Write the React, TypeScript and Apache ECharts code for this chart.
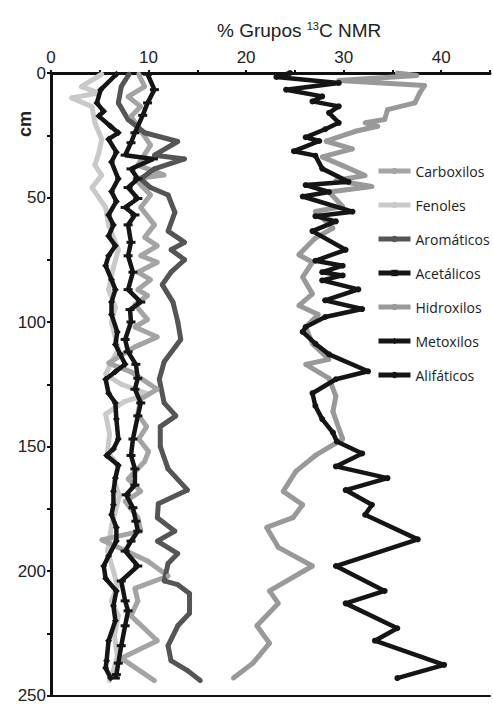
import React, { useEffect, useRef } from "react";
import * as echarts from "echarts";

// ---- data: [value %, depth cm] pairs per series ----
const carboxilosPct = [9.0, 9.6, 7.9, 9.2, 8.2, 8.9, 10.2, 8.9, 11.6, 8.6, 10.2, 9.2, 10.6, 9.6, 10.9, 9.2, 10.9, 8.9, 10.2, 8.9, 9.9, 8.6, 9.9, 8.6, 10.9, 8.6, 5.9, 8.2, 10.9, 9.2, 8.9, 9.8, 9.0, 10.0, 9.6, 7.9, 9.2, 7.6, 8.9, 9.2, 5.2, 6.6, 9.9, 12.0, 8.6, 8.9, 8.2, 10.9, 7.2, 10.6];
const carboxilosDepth = [0.5, 5.5, 9.5, 13.5, 17.5, 21.4, 29, 37, 41, 42.5, 49, 54, 61, 66, 69.4, 73.4, 76, 80, 83, 87, 89.4, 93, 99, 102, 106, 110, 116.5, 120, 127, 131, 137, 142, 147, 152, 156, 163, 168, 172, 178.6, 184, 187.5, 190, 196, 202, 207, 212, 218, 228, 235, 244];

const fenolesPct = [5.2, 3.1, 4.9, 2.1, 4.2, 4.5, 5.2, 4.9, 4.5, 5.2, 4.2, 5.6, 5.9, 6.9, 6.4, 5.9, 6.6, 6.2, 6.9, 6.2, 5.6, 7.2, 10.0, 7.5, 5.6, 6.0, 5.8, 6.9, 6.5, 7.0, 6.6, 6.2, 5.8, 6.4, 6.8, 6.2, 6.9, 6.5, 6.8, 6.4, 6.0];
const fenolesDepth = [0.5, 5.5, 8, 10, 13.5, 20, 26.6, 32, 37, 41, 46, 54, 61, 71, 78, 87, 94, 100, 111, 116, 121, 125, 129, 132, 137, 145, 152, 158, 164, 170, 176, 182, 192, 200, 206, 212, 218, 226, 234, 240, 244];

const aromaticosPct = [8.0, 7.2, 6.9, 7.9, 9.6, 13.0, 10.6, 13.7, 10.6, 9.2, 10.2, 12.0, 12.7, 12.0, 13.7, 12.3, 13.7, 12.3, 11.4, 12.5, 13.0, 13.3, 11.6, 11.1, 11.6, 12.8, 11.2, 11.2, 12.0, 14.0, 11.0, 10.9, 12.7, 10.9, 13.0, 12.0, 11.6, 13.0, 14.2, 14.2, 13.0, 12.0, 12.3, 14.0, 15.3];
const aromaticosDepth = [0.5, 5.5, 12, 18.7, 24, 27.5, 33, 34.5, 38.5, 42.5, 46, 49, 56, 63.5, 68, 71, 75, 80, 85, 92, 100, 107, 116, 123, 132.5, 137.7, 142, 150, 159, 167.5, 173, 178.6, 184, 188, 193, 197, 204, 205.5, 209, 217, 222, 230, 236, 240, 244];

const acetalicosPct = [9.9, 10.6, 9.9, 9.4, 8.6, 8.2, 7.6, 10.5, 8.2, 8.9, 7.9, 8.9, 7.6, 8.6, 7.9, 8.2, 7.9, 8.4, 7.9, 9.2, 8.1, 8.2, 7.6, 7.9, 8.7, 8.9, 8.6, 9.2, 8.9, 8.4, 8.2, 8.6, 8.6, 7.7, 8.4, 8.7, 8.9, 8.2, 7.6, 8.9, 7.2, 7.6, 7.9, 7.6, 7.2, 6.9, 6.7, 6.6];
const acetalicosDepth = [0.5, 6.7, 12, 17, 24, 28, 33, 34.5, 38.5, 42.5, 46, 50.4, 54, 57, 61, 68, 73.4, 80, 87, 92, 95, 100, 107, 112, 117, 122.6, 127, 132.5, 137.7, 147, 153.6, 159, 165.5, 169.4, 174.6, 180, 184, 188, 192, 198, 204, 212, 216, 222, 230, 237, 241.6, 243];

const hidroxilosPct = [35.5, 37.5, 29.5, 38.3, 37.8, 37.3, 34.5, 34.2, 32.2, 33.5, 31.2, 28.2, 30.9, 27.8, 29.9, 32.2, 29.2, 32.9, 28.5, 29.9, 27.1, 28.9, 27.1, 25.4, 26.8, 25.8, 26.8, 25.4, 27.4, 26.1, 26.8, 28.5, 26.1, 28.5, 29.2, 28.9, 29.9, 27.1, 25.1, 23.8, 25.8, 24.8, 22.1, 23.3, 26.8, 22.4, 23.3, 21.1, 22.4, 20.7, 18.7];
const hidroxilosDepth = [0, 1, 3, 5, 8, 12, 14.7, 18.7, 20, 21.4, 23.4, 27.4, 30.5, 33.7, 37.2, 41.2, 43.2, 45.6, 47.8, 53.6, 55.6, 62.3, 66.3, 73, 76, 82, 88.7, 93.4, 97, 102, 108.7, 115, 117, 122.6, 129.8, 136, 147, 153.6, 160, 168, 173.4, 178.6, 182.5, 190.5, 198, 208, 213, 222, 229, 237, 243];

const metoxilosPct = [6.7, 5.1, 4.7, 5.4, 4.9, 6.1, 6.9, 5.9, 6.7, 6.2, 6.9, 6.2, 6.7, 5.9, 6.4, 5.9, 6.6, 5.9, 5.6, 6.2, 6.6, 6.2, 6.2, 6.8, 6.6, 7.1, 7.6, 6.6, 5.6, 5.9, 6.6, 6.7, 6.9, 6.4, 5.7, 6.9, 6.6, 6.4, 6.4, 6.2, 6.7, 6.7, 5.9, 5.4, 5.6, 6.7, 6.4, 6.6, 5.9, 5.7, 5.6, 6.1];
const metoxilosDepth = [0.5, 6.7, 12, 15.4, 17.3, 21.4, 24, 26.6, 31.8, 35.7, 42.5, 47.6, 51.6, 57, 61, 65.5, 69.4, 73.4, 77.4, 83, 87, 92, 97, 104, 109, 113, 117, 120, 123, 128.6, 132.5, 139, 147, 151, 153.6, 157.5, 162.7, 168, 173.4, 177.4, 182.5, 188, 194, 198, 203, 208, 214, 220, 228, 236, 239, 243];

const alifaticosPct = [24.5, 23.1, 29.5, 24.1, 27.8, 26.8, 29.5, 28.5, 29.5, 28.1, 26.1, 27.5, 24.9, 27.1, 27.8, 30.5, 26.1, 28.5, 25.8, 30.9, 27.1, 29.2, 26.8, 30.2, 27.1, 29.9, 27.8, 29.9, 27.8, 31.5, 28.1, 31.9, 28.1, 26.1, 25.8, 27.1, 28.5, 32.5, 29.2, 26.8, 27.1, 27.8, 28.9, 29.3, 31.9, 29.2, 34.5, 30.2, 32.9, 32.2, 37.6, 29.2, 34.2, 30.2, 35.5, 33.2, 40.3, 35.5];
const alifaticosDepth = [0, 1.6, 4, 6.7, 9.4, 11.4, 13.4, 16, 20, 22.6, 25.8, 27.3, 31.4, 33.2, 38.4, 43.7, 45, 47.8, 49.6, 55.7, 57.5, 59.6, 63.5, 71, 75.4, 77.4, 80, 81.3, 83.3, 86.9, 91.3, 94.8, 98, 102, 104, 108.7, 113, 119.8, 123, 128.6, 133.7, 139, 144.4, 148, 152.8, 158, 162.7, 167.5, 173.4, 177.4, 187.3, 198, 208, 213, 223, 228, 237.7, 243];

const xTickLabels = [0, 10, 20, 30, 40];
const yTickLabels = [0, 50, 100, 150, 200, 250];

const pairs = (v: number[], d: number[]) => v.map((x, i) => [x, d[i]]);

export default function App() {
  const ref = useRef<HTMLDivElement>(null);
  useEffect(() => {
    document.body.style.margin = "0";
    const chart = echarts.init(ref.current!, null, { renderer: "svg" });
    const font = "Liberation Sans, Arial, sans-serif";
    const mk = (name: string, v: number[], d: number[], color: string, symbol: string, symbolSize: any, width = 5, z = 2) => ({
      name,
      type: "line",
      data: pairs(v, d),
      showSymbol: true,
      symbol,
      symbolSize,
      z,
      lineStyle: { color, width },
      itemStyle: { color },
    });
    chart.setOption({
      animation: false,
      grid: { left: 51, right: -3, top: 73, bottom: 1, containLabel: false },
      title: {
        text: "{a|% Grupos }{s|13}{a|C NMR}",
        left: 212,
        top: 15,
        textStyle: {
          fontWeight: "normal",
          rich: {
            a: { fontSize: 19, fontFamily: font, color: "#222", fontWeight: "normal" },
            s: { fontSize: 11, fontFamily: font, color: "#222", fontWeight: "normal", padding: [0, 0, 9, 0] },
          },
        },
      },
      graphic: [
        {
          type: "text",
          x: 25,
          y: 124,
          rotation: Math.PI / 2,
          style: { text: "cm", fontSize: 18, fontWeight: "bold", fontFamily: font, fill: "#222", align: "center", verticalAlign: "middle" },
        },
      ],
      legend: {
        orient: "vertical",
        left: 371,
        top: 159,
        itemWidth: 32,
        itemHeight: 8,
        itemGap: 20,
        lineStyle: { width: 5 },
        textStyle: { fontFamily: "Open Sans, DejaVu Sans, sans-serif", fontSize: 14, lineHeight: 14, color: "#222", padding: [0, 0, 0, 0] },
        data: ["Carboxilos", "Fenoles", "Aromáticos", "Acetálicos", "Hidroxilos", "Metoxilos", "Alifáticos"],
      },
      xAxis: [
        {
          type: "value",
          position: "top",
          min: 0,
          max: 45,
          interval: 5,
          splitLine: { show: false },
          axisLine: { show: true, lineStyle: { color: "#111", width: 3 } },
          axisTick: { show: true, length: 3, lineStyle: { color: "#111", width: 2 } },
          axisLabel: {
            fontSize: 17,
            fontFamily: font,
            color: "#222",
            margin: 7,
            formatter: (v: number) => (xTickLabels.includes(v) ? String(v) : ""),
          },
        },
        {
          type: "value",
          position: "bottom",
          min: 0,
          max: 45,
          splitLine: { show: false },
          axisLine: { show: true, onZero: false, lineStyle: { color: "#111", width: 2 } },
          axisTick: { show: false },
          axisLabel: { show: false },
        },
      ],
      yAxis: {
        type: "value",
        inverse: true,
        min: 0,
        max: 250,
        interval: 25,
        splitLine: { show: false },
        axisLine: { show: true, lineStyle: { color: "#111", width: 3 } },
        axisTick: { show: true, length: 4, lineStyle: { color: "#111", width: 2 } },
        axisLabel: {
          fontSize: 17,
          fontFamily: font,
          color: "#222",
          margin: 5,
          formatter: (v: number) => (yTickLabels.includes(v) ? String(v) : ""),
        },
      },
      series: [
        mk("Carboxilos", carboxilosPct, carboxilosDepth, "#a4a4a4", "circle", 5),
        mk("Fenoles", fenolesPct, fenolesDepth, "#c9c9c9", "circle", 5, 5, 1),
        mk("Aromáticos", aromaticosPct, aromaticosDepth, "#555555", "circle", 5),
        mk("Acetálicos", acetalicosPct, acetalicosDepth, "#151515", "rect", [9, 3], 4.5, 3),
        mk("Hidroxilos", hidroxilosPct, hidroxilosDepth, "#999999", "circle", 5),
        mk("Metoxilos", metoxilosPct, metoxilosDepth, "#151515", "diamond", 7, 4.5, 3),
        mk("Alifáticos", alifaticosPct, alifaticosDepth, "#151515", "circle", 6, 4.5, 3),
      ],
    });
    return () => chart.dispose();
  }, []);
  return <div ref={ref} style={{ width: 493, height: 704 }} />;
}
